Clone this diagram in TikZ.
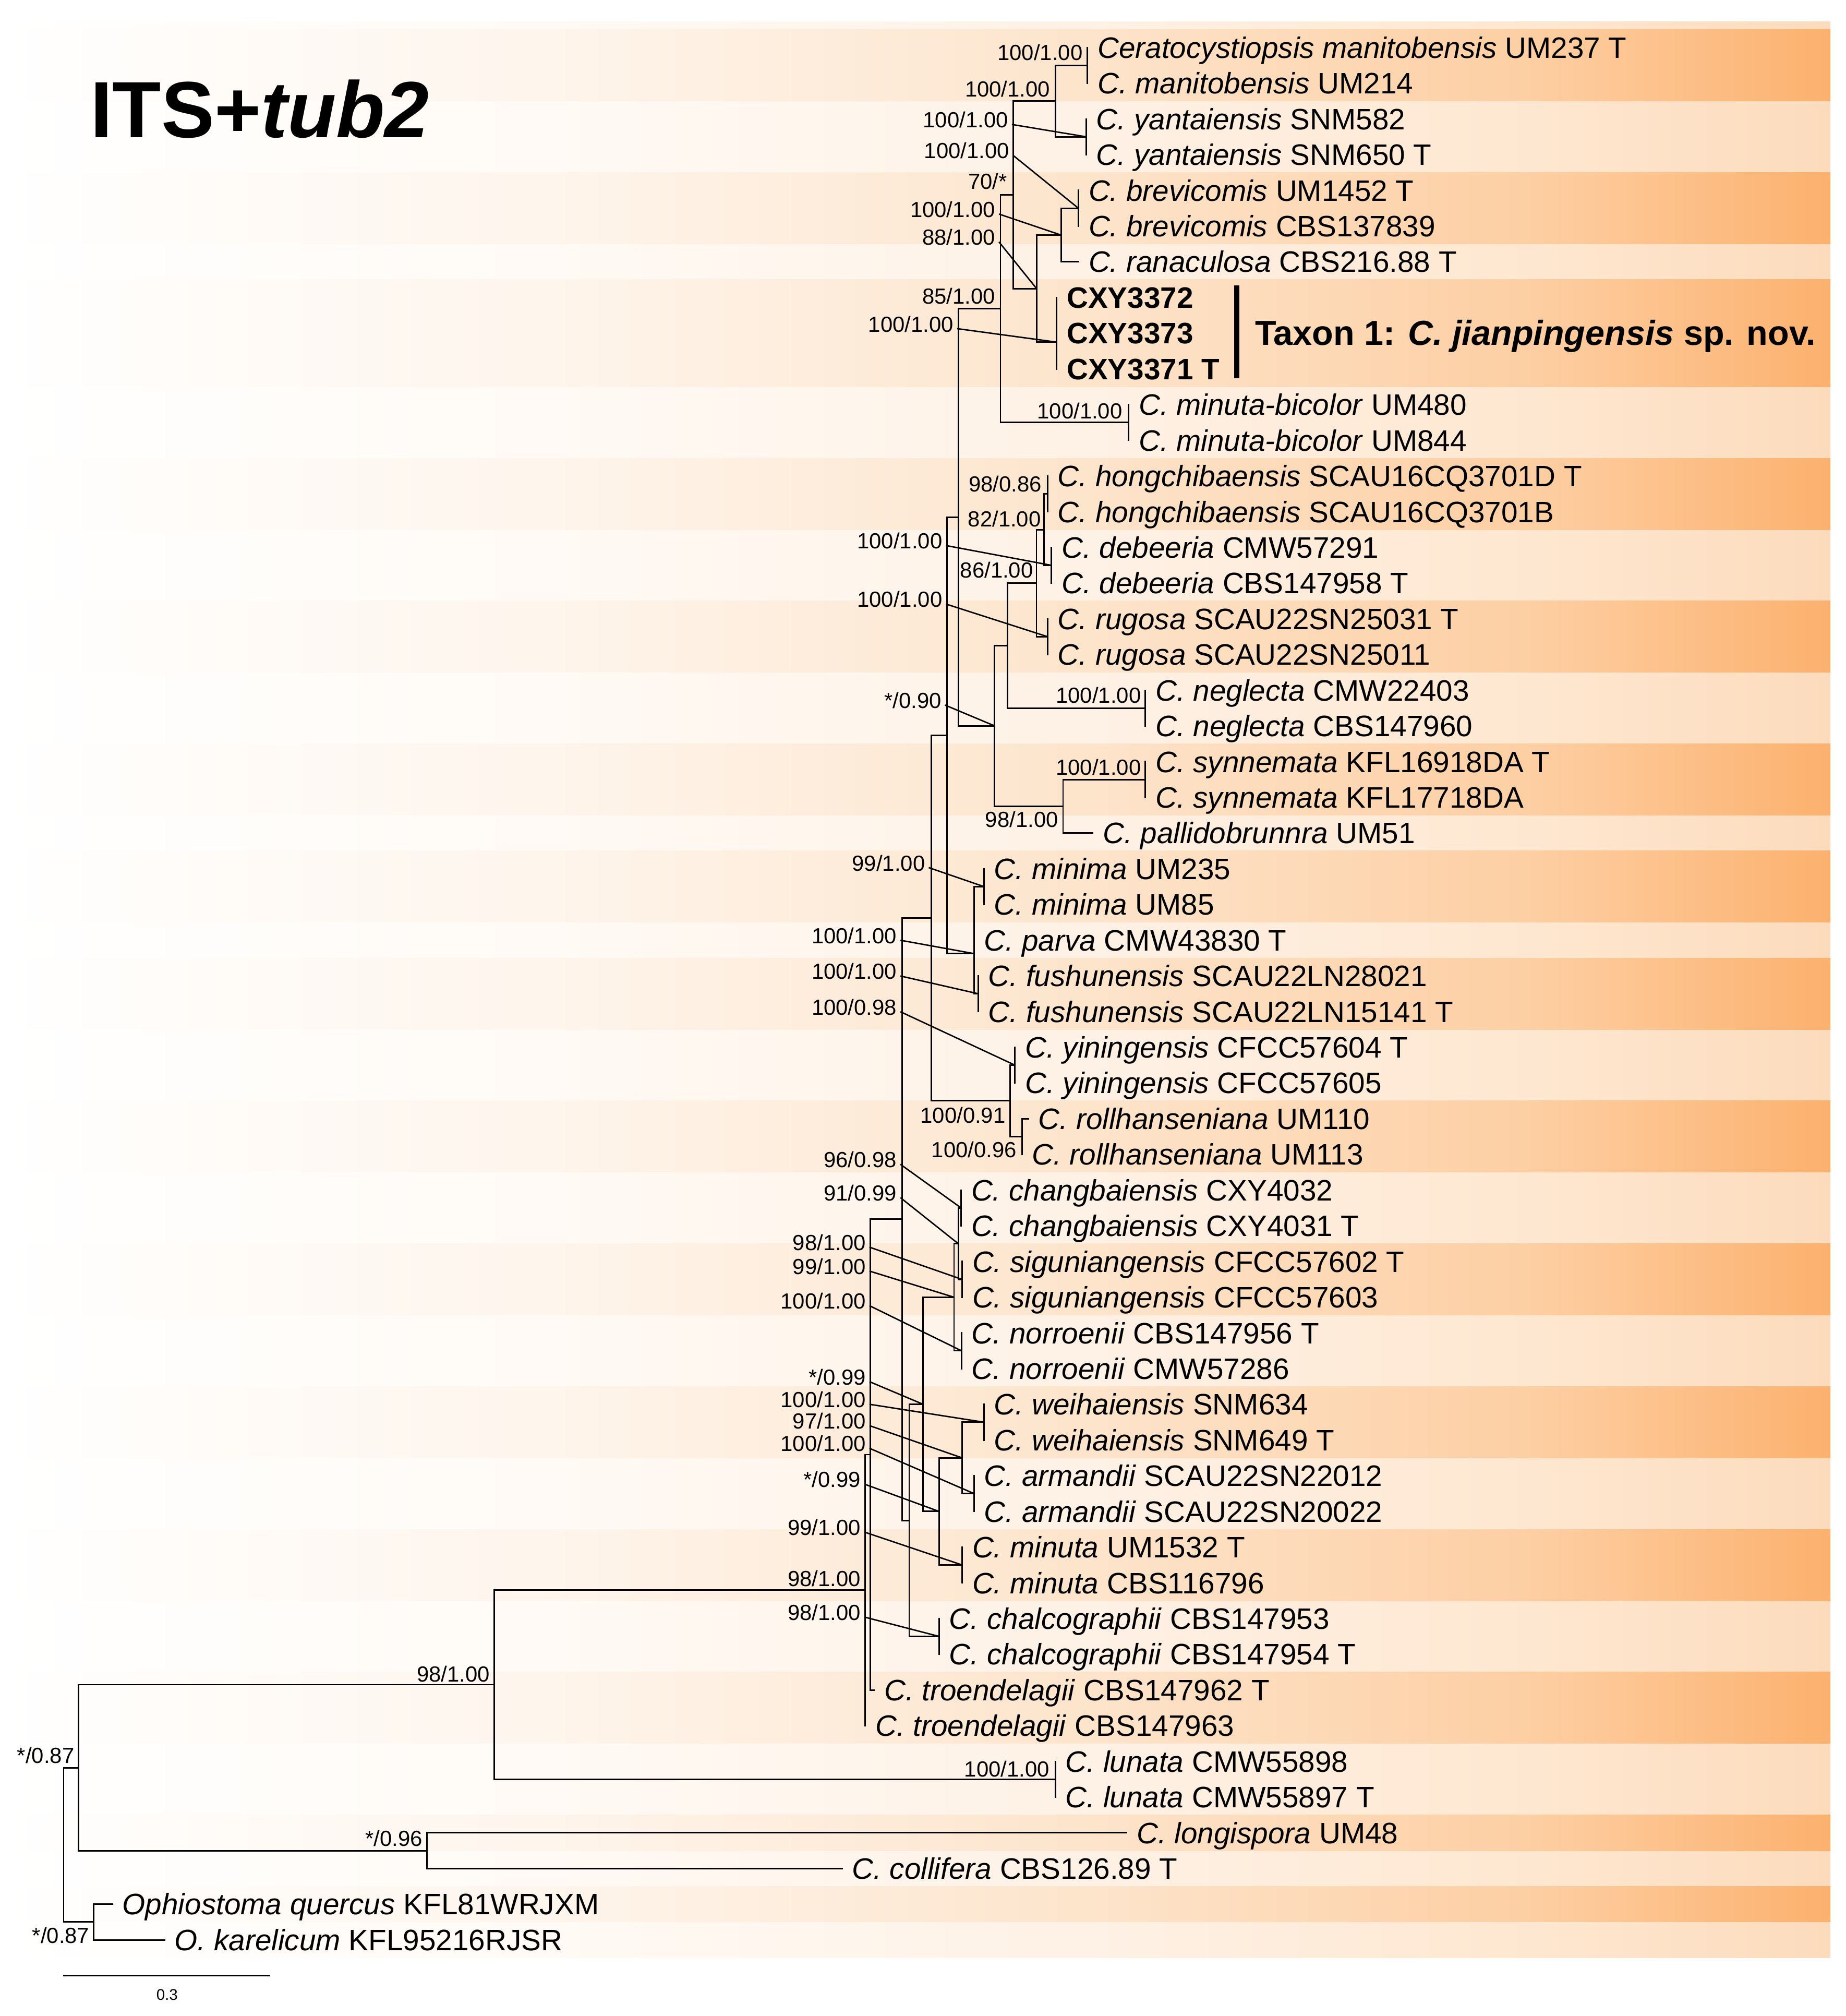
\documentclass[tikz,border=0pt]{standalone}
\usepackage{fontspec}
\setmainfont{Liberation Sans}
\usetikzlibrary{calc}

% band colours (left to right)
\definecolor{dkA}{RGB}{254,245,236}
\definecolor{dkB}{RGB}{253,228,203}
\definecolor{dkC}{RGB}{253,206,162}
\definecolor{dkD}{RGB}{252,177,110}
\definecolor{ltA}{RGB}{255,250,245}
\definecolor{ltB}{RGB}{254,241,229}
\definecolor{ltC}{RGB}{254,231,208}
\definecolor{ltD}{RGB}{252,219,188}

\pgfdeclarehorizontalshading{darkband}{100bp}{color(0bp)=(white); color(25bp)=(white);
  color(40bp)=(dkA); color(55bp)=(dkB); color(67bp)=(dkC); color(75bp)=(dkD); color(100bp)=(dkD)}
\pgfdeclarehorizontalshading{lightband}{100bp}{color(0bp)=(white); color(25bp)=(white);
  color(40bp)=(ltA); color(55bp)=(ltB); color(67bp)=(ltC); color(75bp)=(ltD); color(100bp)=(ltD)}

\begin{document}
\begin{tikzpicture}[x=0.5pt, y=-0.5pt,
  branch/.style={line width=0.6pt, line cap=rect},
  leader/.style={line width=0.55pt},
  tiplabel/.style={anchor=base west, inner sep=0pt, font=\fontsize{11.5}{13}\selectfont},
  support/.style={anchor=base east, inner sep=0pt, font=\fontsize{8.5}{10}\selectfont}]

  \useasboundingbox (0,0) rectangle (1436,1568);

  \pgfmathsetmacro{\rowgap}{27.77}

  % Background bands
  \shade[shading=lightband] (0,17) rectangle (1424,1522.7);
  \foreach \first/\last in {1/2,5/6,8/10,13/14,17/18,21/22,24/25,27/28,31/32,35/36,39/40,43/44,47/48,51/51,53/53}
  {
    \pgfmathsetmacro{\ytop}{max(17,37+(\first-1)*\rowgap-\rowgap/2)}
    \pgfmathsetmacro{\ybot}{37+(\last-1)*\rowgap+\rowgap/2}
    \shade[shading=darkband] (0,\ytop) rectangle (1424,\ybot);
  }

  % Title
  \node[anchor=base west, inner sep=0pt, font=\fontsize{31}{34}\selectfont\bfseries] (title) at (70,107) {ITS+\textit{tub2}};

  % Tips
  \foreach \i/\x/\lbl in {
    1/846/{\textit{Ceratocystiopsis manitobensis} UM237 T},
    2/846/{\textit{C. manitobensis} UM214},
    3/845/{\textit{C. yantaiensis} SNM582},
    4/845/{\textit{C. yantaiensis} SNM650 T},
    5/839/{\textit{C. brevicomis} UM1452 T},
    6/839/{\textit{C. brevicomis} CBS137839},
    7/839/{\textit{C. ranaculosa} CBS216.88 T},
    8/822/{\textbf{CXY3372}},
    9/822/{\textbf{CXY3373}},
    10/822/{\textbf{CXY3371 T}},
    11/878/{\textit{C. minuta-bicolor} UM480},
    12/878/{\textit{C. minuta-bicolor} UM844},
    13/815/{\textit{C. hongchibaensis} SCAU16CQ3701D T},
    14/815/{\textit{C. hongchibaensis} SCAU16CQ3701B},
    15/818/{\textit{C. debeeria} CMW57291},
    16/818/{\textit{C. debeeria} CBS147958 T},
    17/815/{\textit{C. rugosa} SCAU22SN25031 T},
    18/815/{\textit{C. rugosa} SCAU22SN25011},
    19/891/{\textit{C. neglecta} CMW22403},
    20/891/{\textit{C. neglecta} CBS147960},
    21/891/{\textit{C. synnemata} KFL16918DA T},
    22/891/{\textit{C. synnemata} KFL17718DA},
    23/850/{\textit{C. pallidobrunnra} UM51},
    24/765.5/{\textit{C. minima} UM235},
    25/765.5/{\textit{C. minima} UM85},
    26/757.8/{\textit{C. parva} CMW43830 T},
    27/761/{\textit{C. fushunensis} SCAU22LN28021},
    28/761/{\textit{C. fushunensis} SCAU22LN15141 T},
    29/789.6/{\textit{C. yiningensis} CFCC57604 T},
    30/789.6/{\textit{C. yiningensis} CFCC57605},
    31/800/{\textit{C. rollhanseniana} UM110},
    32/795/{\textit{C. rollhanseniana} UM113},
    33/747.7/{\textit{C. changbaiensis} CXY4032},
    34/747.7/{\textit{C. changbaiensis} CXY4031 T},
    35/748.5/{\textit{C. siguniangensis} CFCC57602 T},
    36/748.5/{\textit{C. siguniangensis} CFCC57603},
    37/748/{\textit{C. norroenii} CBS147956 T},
    38/748/{\textit{C. norroenii} CMW57286},
    39/765.5/{\textit{C. weihaiensis} SNM634},
    40/765.5/{\textit{C. weihaiensis} SNM649 T},
    41/757.8/{\textit{C. armandii} SCAU22SN22012},
    42/757.8/{\textit{C. armandii} SCAU22SN20022},
    43/748.5/{\textit{C. minuta} UM1532 T},
    44/748.5/{\textit{C. minuta} CBS116796},
    45/730.6/{\textit{C. chalcographii} CBS147953},
    46/730.6/{\textit{C. chalcographii} CBS147954 T},
    47/680/{\textit{C. troendelagii} CBS147962 T},
    48/673.1/{\textit{C. troendelagii} CBS147963},
    49/821/{\textit{C. lunata} CMW55898},
    50/821/{\textit{C. lunata} CMW55897 T},
    51/876.5/{\textit{C. longispora} UM48},
    52/655/{\textit{C. collifera} CBS126.89 T},
    53/87.4/{\textit{Ophiostoma quercus} KFL81WRJXM},
    54/128/{\textit{O. karelicum} KFL95216RJSR}}
  {
    \pgfmathsetmacro{\y}{37+(\i-1)*\rowgap}
    \coordinate (t\i) at (\x,\y);
    \node[tiplabel] (l\i) at (\x+7.5,\y+8.2) {\lbl};
  }

  % Clades and inner nodes
  \foreach \n/\x/\y in {cManit/846/51, cYant/845/106.4, cBrev/839/162, nE/825.4/182.8,
    cCXY/822/266.1, nD/806.4/224.45, nB/821/78.7, nC/788.3/151.6, cMinBi/878/328.6,
    nF/778.3/240.1, cHong/815/384.1, cDeb/818/439.7, nM/812.3/411.9, cRug/815/495.2,
    nL/806.3/453.55, cNeg/891/550.75, nJ/783.9/502.15, cSyn/891/606.3, nK/827/627.1,
    nI/773.8/564.6, nG/745.5/402.35, cMinima/765.5/689.6, cFush/761/772.9, nP/757.8/741.7,
    nH/736.8/572.0, cYin/789.6/828.45, cRoll/795/884, nR/785.7/856.2, nQ/724.5/714.1,
    cChang/747.7/939.5, cSigu/748.5/995.1, nW/745.5/967.3, cNorr/748/1050.6,
    nV/742.2/1008.95, cWei/765.5/1106.15, cArm/757.8/1161.7, nX/748.5/1133.9,
    cMinu/748.5/1217.2, nY/730.6/1175.55, nU/718.2/1092.25, cChal/730.6/1272.75,
    nT/707.3/1182.5, nS/701.9/948.3, nZ/677/1131.35, nAA/673.1/1236.8, cLun/821/1383.85,
    nBB/384.4/1310.3, nDD/332/1439.4, nCC/61.2/1374.85, nEE/72.8/1494.9, nRoot/49.5/1434.9}
    \coordinate (\n) at (\x,\y);

  % Branches
  \foreach \p/\c in {cManit/t1, cManit/t2, cYant/t3, cYant/t4, cBrev/t5, cBrev/t6,
    nE/cBrev, nE/t7, cCXY/t8, cCXY/t10, nD/nE, nD/cCXY, nB/cManit, nB/cYant,
    nC/nB, nC/nD, cMinBi/t11, cMinBi/t12, nF/nC, nF/cMinBi,
    cHong/t13, cHong/t14, cDeb/t15, cDeb/t16, nM/cHong, nM/cDeb, cRug/t17, cRug/t18,
    nL/nM, nL/cRug, cNeg/t19, cNeg/t20, nJ/nL, nJ/cNeg, cSyn/t21, cSyn/t22,
    nK/cSyn, nK/t23, nI/nJ, nI/nK, nG/nF, nG/nI,
    cMinima/t24, cMinima/t25, cFush/t27, cFush/t28, nP/cMinima, nP/t26, nP/cFush,
    nH/nG, nH/nP, cYin/t29, cYin/t30, cRoll/t31, cRoll/t32, nR/cYin, nR/cRoll,
    nQ/nH, nQ/nR, cChang/t33, cChang/t34, cSigu/t35, cSigu/t36, nW/cChang, nW/cSigu,
    cNorr/t37, cNorr/t38, nV/nW, nV/cNorr, cWei/t39, cWei/t40, cArm/t41, cArm/t42,
    nX/cWei, nX/cArm, cMinu/t43, cMinu/t44, nY/nX, nY/cMinu, nU/nV, nU/nY,
    cChal/t45, cChal/t46, nT/nU, nT/cChal, nS/nQ, nS/nT, nZ/nS, nZ/t47,
    nAA/nZ, nAA/t48, cLun/t49, cLun/t50, nBB/nAA, nBB/cLun, nDD/t51, nDD/t52,
    nCC/nBB, nCC/nDD, nEE/t53, nEE/t54, nRoot/nCC, nRoot/nEE}
    \draw[branch] (\p) |- (\c);

  % Support values beside their node
  \foreach \n/\x/\y/\txt in {s1/842.6/47/{100/1.00}, s2/817.3/75.4/{100/1.00},
    s3/783.8/147.2/{70/*}, s4/774.7/236.4/{85/1.00}, s5/873.5/325.5/{100/1.00},
    s6/810.8/382.3/{98/0.86}, s7/810.2/409.7/{82/1.00}, s8/804.1/449.5/{86/1.00},
    s9/888/547/{100/1.00}, s10/888/603/{100/1.00}, s11/823.6/643.2/{98/1.00},
    s12/782.6/873.6/{100/0.91}, s13/791.2/900.4/{100/0.96}, s14/670/1233.9/{98/1.00},
    s15/816.8/1382/{100/1.00}, s16/381.5/1308/{98/1.00}, s17/329/1436/{*/0.96},
    s18/58.2/1371.5/{*/0.87}, s19/69.9/1511.5/{*/0.87}}
    \node[support] (\n) at (\x,\y) {\txt};

  % Support values with a leader line
  \foreach \n/\x/\y/\txt/\to in {q1/784.7/99.3/{100/1.00}/cYant,
    q2/785.6/123.3/{100/1.00}/cBrev, q3/774.7/169/{100/1.00}/nE,
    q4/774.7/190.7/{88/1.00}/nD, q5/742.1/258.1/{100/1.00}/cCXY,
    q6/733.4/426.8/{100/1.00}/cDeb, q7/733.4/472.3/{100/1.00}/cRug,
    q8/732.7/550.9/{*/0.90}/nI, q9/720/677.3/{99/1.00}/cMinima,
    q10/698/733.8/{100/1.00}/nP, q11/698/761.6/{100/1.00}/cFush,
    q12/698/789.4/{100/0.98}/cYin, q13/698/908.1/{96/0.98}/cChang,
    q14/698/934/{91/0.99}/nW, q15/673.9/972.5/{98/1.00}/cSigu,
    q16/673.9/991.1/{99/1.00}/nV, q17/673.9/1018/{100/1.00}/cNorr,
    q18/673.9/1077.1/{*/0.99}/nU, q19/673.9/1094.7/{100/1.00}/cWei,
    q20/673.9/1111.3/{97/1.00}/nX, q21/673.9/1128.9/{100/1.00}/cArm,
    q22/670/1156.8/{*/0.99}/nY, q23/670/1194.1/{99/1.00}/cMinu,
    q24/670/1260.2/{98/1.00}/cChal}
  {
    \node[support] (\n) at (\x,\y) {\txt};
    \draw[leader] ($(\n.base east)+(2.5,-2.5)$) -- (\to);
  }

  % Taxon 1 bracket
  \coordinate (barTop) at (962,222);
  \coordinate (barBot) at (962,294);
  \draw[line width=2pt] (barTop) -- (barBot);
  \node[anchor=base west, inner sep=0pt, font=\fontsize{13.5}{15}\selectfont\bfseries] (taxon) at (976,268.5)
    {Taxon 1: \textit{C. jianpingensis} sp. nov.};

  % Scale bar
  \coordinate (sbL) at (49.5,1536.7);
  \coordinate (sbR) at (209.7,1536.7);
  \draw[branch] (sbL) -- (sbR);
  \node[font=\fontsize{6}{7}\selectfont, inner sep=0pt] (sbLab) at (130,1551.5) {0.3};

\end{tikzpicture}
\end{document}
